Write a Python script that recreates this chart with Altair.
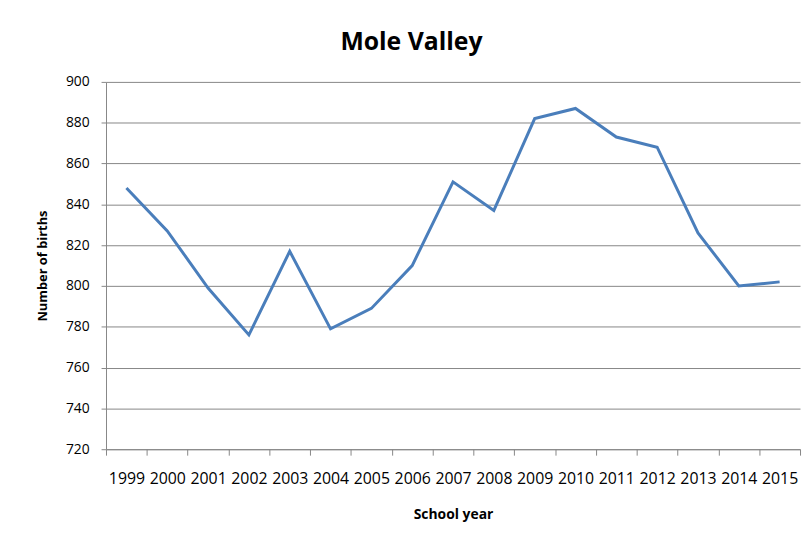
import altair as alt
import pandas as pd

years = ["1999", "2000", "2001", "2002", "2003", "2004", "2005", "2006", "2007",
         "2008", "2009", "2010", "2011", "2012", "2013", "2014", "2015"]
births = [848, 827, 799, 776, 817, 779, 789, 810, 851,
          837, 882, 887, 873, 868, 826, 800, 802]
y_ticks = [720, 740, 760, 780, 800, 820, 840, 860, 880, 900]

df = pd.DataFrame({"year": years, "births": births})

FONT = "Open Sans"
GRAY = "#878787"

chart = alt.Chart(df).mark_line(color="#4A7EBB", strokeWidth=3).encode(
    x=alt.X(
        "year:O",
        sort=years,
        scale=alt.Scale(type="band", paddingInner=0, paddingOuter=0),
        axis=alt.Axis(
            title="School year",
            labelAngle=0,
            tickBand="extent",
            tickSize=6,
            tickColor=GRAY,
            domainColor=GRAY,
            labelFontSize=16,
            labelPadding=16,
            labelColor="#000000",
            titleFontSize=14,
            titleFontWeight="bold",
            titlePadding=21,
            titleColor="#000000",
            grid=False,
        ),
    ),
    y=alt.Y(
        "births:Q",
        scale=alt.Scale(domain=[720, 900], nice=False, zero=False),
        axis=alt.Axis(
            title="Number of births",
            values=y_ticks,
            tickSize=5,
            tickColor=GRAY,
            domainColor=GRAY,
            gridColor=GRAY,
            labelFontSize=14,
            labelPadding=12,
            labelColor="#000000",
            titleFontSize=13,
            titleFontWeight="bold",
            titlePadding=16,
            titleColor="#000000",
        ),
    ),
).properties(
    width=701,
    height=371,
    title=alt.TitleParams(
        "Mole Valley",
        fontSize=25,
        fontWeight="bold",
        font=FONT,
        color="#000000",
        anchor="middle",
        frame="group",
        dx=-42,
        offset=20,
    ),
    padding={"left": 99, "top": 72, "right": 3, "bottom": 84},
    autosize=alt.AutoSizeParams(type="none"),
).configure(
    font=FONT,
).configure_view(
    stroke=None,
)

chart.save("out.html", embed_options={"renderer": "svg", "actions": False})
